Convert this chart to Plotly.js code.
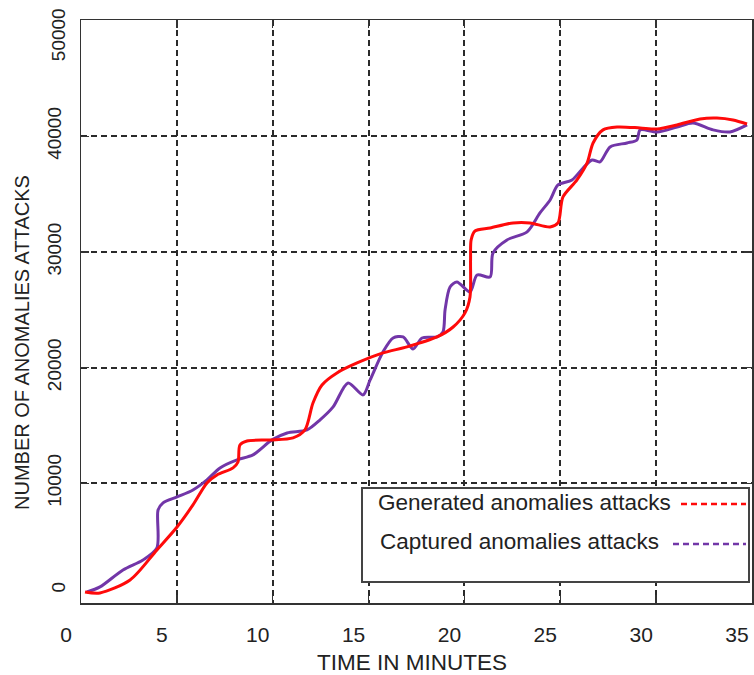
<!DOCTYPE html>
<html>
<head>
<meta charset="utf-8">
<script src="https://cdn.plot.ly/plotly-3.0.1.min.js"></script>
<style>
  html, body { margin: 0; padding: 0; background: #ffffff; }
  #chart { width: 754px; height: 675px; }
</style>
</head>
<body>
<div id="chart"></div>
<script>
// ---- data ----
const seriesNames = ["Generated anomalies attacks", "Captured anomalies attacks"];

const timeGenerated = [0.21,0.99,2.56,3.96,5.01,5.84,6.57,7.09,7.93,8.19,8.29,8.66,9.86,11.06,11.68,12.10,12.57,13.35,14.40,15.75,17.00,18.57,19.41,20.03,20.29,20.32,20.35,20.55,21.34,22.54,23.42,24.47,24.88,25.14,25.87,26.40,26.71,27.23,27.96,29.16,30.05,31.09,32.29,33.17,34.01,34.74];
const valuesGenerated = [600,520,1640,4240,6220,8130,10030,10720,11330,11840,13310,13660,13750,13920,14610,16940,18500,19540,20400,21270,21790,22650,23510,24730,26110,29300,31040,31810,32070,32510,32510,32160,32510,34750,36220,37690,39420,40550,40800,40720,40630,40980,41500,41580,41410,41060];

const timeCaptured = [0.31,0.99,2.19,3.23,3.96,4.02,4.28,5.01,5.84,6.57,7.25,8.14,8.97,9.96,10.75,11.79,12.47,13.15,13.93,14.71,15.08,15.75,16.28,16.80,17.32,17.79,18.57,18.88,18.99,19.25,19.61,20.29,20.66,21.34,21.49,22.22,23.27,23.94,24.47,24.88,25.61,26.19,26.66,27.07,27.60,28.48,29.00,29.16,30.05,31.09,31.92,32.97,33.85,34.74];
const valuesCaptured = [600,1040,2510,3370,4410,7690,8300,8820,9420,10290,11330,12020,12450,13750,14350,14610,15480,16600,18670,17640,18930,21350,22560,22650,21610,22560,22650,23080,24990,26970,27410,26540,28010,27840,29910,31040,31730,33370,34490,35790,36220,37260,37950,37780,39080,39420,39680,40550,40370,40800,41150,40550,40370,40980];

const xTickVals = [0,5,10,15,20,25,30,35];
const xTickText = ["0","5","10","15","20","25","30","35"];
const yTickVals = [10000,20000,30000,40000];
const yTickText = ["10000","20000","30000","40000"];
const yBottomVal = [0], yBottomText = ["0"];
const yTopVal = [50000], yTopText = ["50000"];
const yGridVals = [10000,20000,30000,40000];

const xTitle = "TIME IN MINUTES";
const yTitle = "NUMBER OF ANOMALIES ATTACKS";

// ---- styles ----
const RED = "#ff0a0a";
const PURPLE = "#7236a8";
const GRID = "#2a2a2a";
const TEXT = "#222222";
const FONT = "Liberation Sans, Arial, sans-serif";

const traces = [
  { x: timeCaptured, y: valuesCaptured, name: seriesNames[1], type: "scatter", mode: "lines",
    line: { color: PURPLE, width: 3, shape: "spline", smoothing: 0.8 }, showlegend: false, hoverinfo: "skip" },
  { x: timeGenerated, y: valuesGenerated, name: seriesNames[0], type: "scatter", mode: "lines",
    line: { color: RED, width: 3, shape: "spline", smoothing: 0.8 }, showlegend: false, hoverinfo: "skip" },
  { x: [], y: [], yaxis: "y2", type: "scatter", mode: "lines", showlegend: false, hoverinfo: "skip" },
  { x: [], y: [], yaxis: "y3", type: "scatter", mode: "lines", showlegend: false, hoverinfo: "skip" },
  { x: [], y: [], yaxis: "y4", type: "scatter", mode: "lines", showlegend: false, hoverinfo: "skip" }
];

// plot area in pixels: x 81..752, y 20..603
const L = 81, R = 752, T = 20, B = 603;
const px = v => (v - L) / (R - L);
const py = v => (B - v) / (B - T);

const yRange = [-350, 50050];
const yLabelFont = { family: FONT, size: 19, color: TEXT };

const labelAxis = (vals, text, shift) => ({
  range: yRange, overlaying: "y", side: "left", tickmode: "array", tickvals: vals, ticktext: text,
  showgrid: false, zeroline: false, showline: false, ticks: "",
  tickangle: -90, tickfont: yLabelFont, ticklabelstandoff: 11, ticklabelshift: shift,
  ticklabeloverflow: "allow"
});

const layout = {
  width: 754, height: 675,
  margin: { l: L, r: 754 - R, t: T, b: 675 - B, pad: 0 },
  paper_bgcolor: "#ffffff", plot_bgcolor: "#ffffff",
  showlegend: false,
  font: { family: FONT, color: TEXT },
  xaxis: {
    range: [0, 35], tickmode: "array", tickvals: xTickVals, ticktext: xTickText,
    showgrid: true, gridcolor: GRID, gridwidth: 2, griddash: "6px,4px",
    zeroline: false, showline: true, linecolor: "#333", linewidth: 1.5, mirror: "ticks",
    ticks: "inside", ticklen: 8, tickwidth: 1.5, tickcolor: "#333",
    tickfont: { family: FONT, size: 21, color: TEXT },
    ticklabelshift: -15, ticklabelstandoff: 12
  },
  yaxis: {
    range: yRange, tickmode: "array", tickvals: yTickVals, ticktext: yTickText,
    showgrid: false, zeroline: false, showline: true, linecolor: "#333", linewidth: 1.5, mirror: "ticks",
    ticks: "inside", ticklen: 8, tickwidth: 1.5, tickcolor: "#333",
    tickangle: -90, tickfont: yLabelFont, ticklabelstandoff: 11
  },
  yaxis2: {
    range: yRange, overlaying: "y", side: "left", tickmode: "array", tickvals: yGridVals,
    showgrid: true, gridcolor: GRID, gridwidth: 2, griddash: "6px,4px",
    zeroline: false, showline: false, showticklabels: false, ticks: ""
  },
  yaxis3: labelAxis(yBottomVal, yBottomText, -9),
  yaxis4: labelAxis(yTopVal, yTopText, 17),
  shapes: [
    { type: "rect", xref: "paper", yref: "paper", x0: px(362), x1: px(749), y0: py(582), y1: py(488),
      line: { color: "#444", width: 2 }, fillcolor: "#ffffff", layer: "above" },
    { type: "line", xref: "paper", yref: "paper", x0: px(681), x1: px(746), y0: py(504), y1: py(504),
      line: { color: RED, width: 2.5, dash: "6px,4px" }, layer: "above" },
    { type: "line", xref: "paper", yref: "paper", x0: px(673), x1: px(746), y0: py(544), y1: py(544),
      line: { color: PURPLE, width: 2.5, dash: "6px,4px" }, layer: "above" }
  ],
  annotations: [
    { text: seriesNames[0], xref: "paper", yref: "paper", x: px(376), y: py(502),
      xanchor: "left", yanchor: "middle", showarrow: false, font: { family: FONT, size: 22.5, color: TEXT } },
    { text: seriesNames[1], xref: "paper", yref: "paper", x: px(378), y: py(541),
      xanchor: "left", yanchor: "middle", showarrow: false, font: { family: FONT, size: 22.5, color: TEXT } },
    { text: xTitle, xref: "paper", yref: "paper", x: px(412), y: py(662),
      xanchor: "center", yanchor: "middle", showarrow: false, font: { family: FONT, size: 22.5, color: TEXT } },
    { text: yTitle, xref: "paper", yref: "paper", x: px(22), y: py(343), textangle: -90,
      xanchor: "center", yanchor: "middle", showarrow: false, font: { family: FONT, size: 20, color: TEXT } }
  ]
};

Plotly.newPlot("chart", traces, layout, { staticPlot: true, displayModeBar: false });
</script>
</body>
</html>
